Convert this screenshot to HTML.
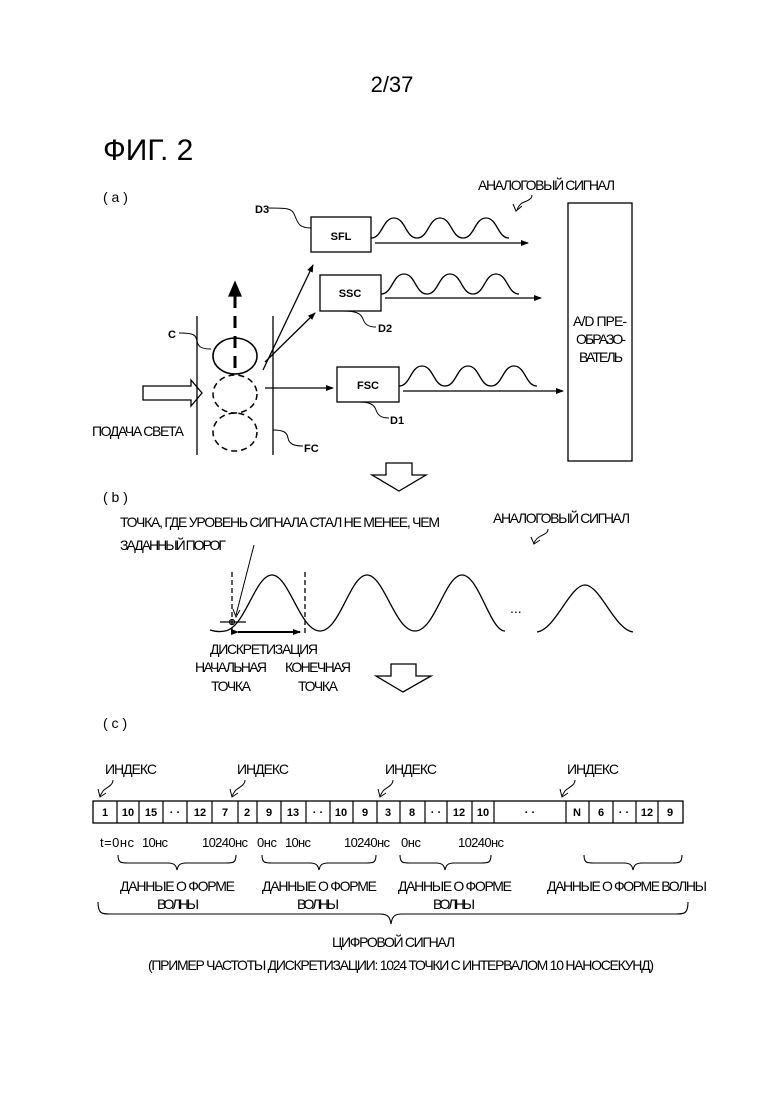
<!DOCTYPE html>
<html><head><meta charset="utf-8"><style>
html,body{margin:0;padding:0;background:#fff}
svg{display:block}
text{font-family:"Liberation Sans Narrow","Liberation Sans","DejaVu Sans",sans-serif;fill:#000}
</style></head><body>
<svg width="780" height="1103" viewBox="0 0 780 1103" xmlns="http://www.w3.org/2000/svg">
<defs><marker id="ah" markerWidth="8" markerHeight="8" refX="7" refY="4" orient="auto" markerUnits="userSpaceOnUse"><path d="M0,1 L8,4 L0,7 Z" fill="#000"/></marker></defs>
<g stroke="#000" fill="none" stroke-width="1.3">
<rect x="311" y="217" width="60" height="35"/>
<rect x="320" y="275" width="61" height="36"/>
<rect x="337" y="367" width="62" height="35"/>
<rect x="568" y="203" width="64" height="258"/>
<line x1="197" y1="316" x2="197" y2="455"/>
<line x1="273" y1="316" x2="273" y2="455"/>
<ellipse cx="235" cy="356" rx="22" ry="18" stroke-width="1.6"/>
<ellipse cx="235" cy="394" rx="22" ry="19" stroke-dasharray="6,4" stroke-width="1.5"/>
<ellipse cx="235" cy="432" rx="22" ry="19" stroke-dasharray="6,4" stroke-width="1.5"/>
<line x1="235" y1="368" x2="235" y2="292" stroke-width="3" stroke-dasharray="12,8"/>
<path d="M229,296 L235,282 L241,296 Z" fill="#000"/>
<path d="M143,386 L191,386 L191,380 L202,393 L191,406 L191,400 L143,400 Z"/>
<line x1="263" y1="370" x2="313" y2="265" marker-end="url(#ah)"/>
<line x1="265" y1="362" x2="315" y2="313" marker-end="url(#ah)"/>
<line x1="265" y1="388" x2="333" y2="388" marker-end="url(#ah)"/>
<path d="M371,238 c11.5,0 11.5,-20 23,-20 c11.5,0 11.5,20 23,20 c11.5,0 11.5,-20 23,-20 c11.5,0 11.5,20 23,20 c11.5,0 11.5,-20 23,-20 c11.5,0 11.5,20 23,20"/>
<line x1="375" y1="243" x2="528" y2="243" marker-end="url(#ah)"/>
<path d="M381,294 c11.5,0 11.5,-20 23,-20 c11.5,0 11.5,20 23,20 c11.5,0 11.5,-20 23,-20 c11.5,0 11.5,20 23,20 c11.5,0 11.5,-20 23,-20 c11.5,0 11.5,20 23,20"/>
<line x1="385" y1="298" x2="541" y2="298" marker-end="url(#ah)"/>
<path d="M399,386 c11.5,0 11.5,-20 23,-20 c11.5,0 11.5,20 23,20 c11.5,0 11.5,-20 23,-20 c11.5,0 11.5,20 23,20 c11.5,0 11.5,-20 23,-20 c11.5,0 11.5,20 23,20"/>
<line x1="403" y1="391" x2="563" y2="391" marker-end="url(#ah)"/>
<path d="M268,208 c20,0 24,0 27,8 c3,8 5,12 16,12" stroke-width="1"/>
<path d="M343,311 c12,0 18,2 20,8 c2,6 6,8 13,8" stroke-width="1"/>
<path d="M359,402 c10,0 15,2 17,8 c2,6 6,8 13,8" stroke-width="1"/>
<path d="M179,333 c15,0 17,2 18,8 c1,6 5,8 14,8" stroke-width="1"/>
<path d="M273,430 c10,0 14,2 15,8 c1,6 6,8 15,8" stroke-width="1"/>
<path d="M532,195 c0,5 -6,6 -10,8 c-3,2 -4,4 -5,7" stroke-width="1"/>
<path d="M513,204 L516,211 L522,206" stroke-width="1"/>
<path d="M386,463 L412,463 L412,475 L426,475 L399,491 L372,475 L386,475 Z"/>
<path d="M391,664 L416,664 L416,676 L431,676 L403,692 L376,676 L391,676 Z"/>
<path d="M210,630 C216,632 220,632 225,631 C245,628 255,575 272,575 C289,575 300,631 320,631 C340,631 350,575 367,575 C384,575 395,631 415,631 C435,631 445,575 462,575 C479,575 490,631 505,631"/>
<path d="M537,632 C555,630 570,585 585,585 C600,585 615,630 633,632"/>
<line x1="232" y1="572" x2="232" y2="636" stroke-dasharray="5,3"/>
<line x1="305" y1="572" x2="305" y2="636" stroke-dasharray="5,3"/>
<line x1="220" y1="622" x2="246" y2="622"/>
<circle cx="232" cy="622" r="2.5"/>
<line x1="238" y1="632" x2="300" y2="632" stroke-width="2" marker-end="url(#ah)" marker-start="url(#ah)"/>
<path d="M254,545 L236,615" stroke-width="1"/>
<path d="M233,609 L236,617 L240,610" stroke-width="1"/>
<path d="M548,529 c0,5 -6,6 -9,8 c-3,2 -4,4 -5,6" stroke-width="1"/>
<path d="M531,537 L534,544 L540,540" stroke-width="1"/>
<rect x="93" y="801" width="590" height="22"/>
<g stroke-width="1.2">
<line x1="117" y1="801" x2="117" y2="823"/><line x1="139" y1="801" x2="139" y2="823"/><line x1="163" y1="801" x2="163" y2="823"/><line x1="187" y1="801" x2="187" y2="823"/><line x1="212" y1="801" x2="212" y2="823"/><line x1="238" y1="801" x2="238" y2="823"/><line x1="257" y1="801" x2="257" y2="823"/><line x1="281" y1="801" x2="281" y2="823"/><line x1="306" y1="801" x2="306" y2="823"/><line x1="330" y1="801" x2="330" y2="823"/><line x1="353" y1="801" x2="353" y2="823"/><line x1="377" y1="801" x2="377" y2="823"/><line x1="400" y1="801" x2="400" y2="823"/><line x1="425" y1="801" x2="425" y2="823"/><line x1="447" y1="801" x2="447" y2="823"/><line x1="472" y1="801" x2="472" y2="823"/><line x1="494" y1="801" x2="494" y2="823"/><line x1="566" y1="801" x2="566" y2="823"/><line x1="589" y1="801" x2="589" y2="823"/><line x1="613" y1="801" x2="613" y2="823"/><line x1="636" y1="801" x2="636" y2="823"/><line x1="658" y1="801" x2="658" y2="823"/>
</g>
<g stroke-width="1">
<path d="M113,780 c0,6 -8,8 -10,11 l-3,5"/><path d="M98,789 L100,797 L106,793"/>
<path d="M245,780 c0,6 -8,8 -10,11 l-3,5"/><path d="M230,789 L232,797 L238,793"/>
<path d="M393,780 c0,6 -8,8 -10,11 l-3,5"/><path d="M378,789 L380,797 L386,793"/>
<path d="M575,780 c0,6 -8,8 -10,11 l-3,5"/><path d="M560,789 L562,797 L568,793"/>
</g>
<path d="M118,855 c0,8 3,8 10,8 l40,0 c6,0 8,2 9,7 c1,-5 3,-7 9,-7 l40,0 c7,0 10,0 10,-8" stroke-width="1.1"/>
<path d="M262,855 c0,8 3,8 10,8 l38,0 c6,0 8,2 9,7 c1,-5 3,-7 9,-7 l38,0 c7,0 10,0 10,-8" stroke-width="1.1"/>
<path d="M400,855 c0,8 3,8 10,8 l26,0 c6,0 8,2 9,7 c1,-5 3,-7 9,-7 l27,0 c7,0 10,0 10,-8" stroke-width="1.1"/>
<path d="M584,855 c0,8 3,8 10,8 l30,0 c6,0 8,2 9,7 c1,-5 3,-7 9,-7 l30,0 c7,0 10,0 10,-8" stroke-width="1.1"/>
<path d="M98,902 c0,12 4,12 12,12 l270,0 c8,0 10,3 11,10 c1,-7 3,-10 11,-10 l274,0 c8,0 12,0 12,-12" stroke-width="1.1"/>
</g>
<text x="392" y="92" font-size="22" text-anchor="middle" font-family="Liberation Sans">2/37</text>
<text x="103" y="160" font-size="30" font-family="Liberation Sans">ФИГ. 2</text>
<g font-size="14">
<text x="103" y="202">( a )</text>
<text x="478" y="190" textLength="137">АНАЛОГОВЫЙ СИГНАЛ</text>
<text x="255" y="213" font-size="11" font-weight="bold">D3</text>
<text x="341" y="240" font-size="11" font-weight="bold" text-anchor="middle">SFL</text>
<text x="350" y="297" font-size="11" font-weight="bold" text-anchor="middle">SSC</text>
<text x="368" y="389" font-size="11" font-weight="bold" text-anchor="middle">FSC</text>
<text x="378" y="332" font-size="11" font-weight="bold">D2</text>
<text x="390" y="424" font-size="11" font-weight="bold">D1</text>
<text x="168" y="338" font-size="11" font-weight="bold">C</text>
<text x="304" y="452" font-size="11" font-weight="bold">FC</text>
<text x="573" y="326" textLength="54">A/D ПРЕ-</text>
<text x="576" y="344" textLength="50">ОБРАЗО-</text>
<text x="579" y="362" textLength="44">ВАТЕЛЬ</text>
<text x="92" y="436" textLength="92">ПОДАЧА СВЕТА</text>
<text x="103" y="502">( b )</text>
<text x="120" y="527" textLength="320">ТОЧКА, ГДЕ УРОВЕНЬ СИГНАЛА СТАЛ НЕ МЕНЕЕ, ЧЕМ</text>
<text x="120" y="550" textLength="106">ЗАДАННЫЙ ПОРОГ</text>
<text x="493" y="523" textLength="137">АНАЛОГОВЫЙ СИГНАЛ</text>
<text x="510" y="613">...</text>
<text x="210" y="654" textLength="108">ДИСКРЕТИЗАЦИЯ</text>
<text x="195" y="672" textLength="72">НАЧАЛЬНАЯ</text>
<text x="285" y="672" textLength="66">КОНЕЧНАЯ</text>
<text x="211" y="691" textLength="40">ТОЧКА</text>
<text x="298" y="691" textLength="40">ТОЧКА</text>
<text x="103" y="728">( c )</text>
<text x="105" y="774" textLength="52">ИНДЕКС</text>
<text x="237" y="774" textLength="52">ИНДЕКС</text>
<text x="385" y="774" textLength="52">ИНДЕКС</text>
<text x="567" y="774" textLength="52">ИНДЕКС</text>
</g>
<g font-size="11" font-weight="bold" text-anchor="middle">
<text x="105" y="816">1</text><text x="128" y="816">10</text><text x="151" y="816">15</text><text x="175" y="816">· ·</text><text x="200" y="816">12</text><text x="225" y="816">7</text><text x="247" y="816">2</text><text x="269" y="816">9</text><text x="293" y="816">13</text><text x="318" y="816">· ·</text><text x="341" y="816">10</text><text x="365" y="816">9</text><text x="388" y="816">3</text><text x="412" y="816">8</text><text x="436" y="816">· ·</text><text x="459" y="816">12</text><text x="483" y="816">10</text><text x="530" y="816">· ·</text><text x="577" y="816">N</text><text x="601" y="816">6</text><text x="624" y="816">· ·</text><text x="647" y="816">12</text><text x="670" y="816">9</text>
</g>
<g font-size="13">
<text x="100" y="847" textLength="34">t=0нс</text><text x="142" y="847" textLength="26">10нс</text><text x="202" y="847" textLength="46">10240нс</text>
<text x="257" y="847" textLength="20">0нс</text><text x="285" y="847" textLength="26">10нс</text><text x="344" y="847" textLength="46">10240нс</text>
<text x="401" y="847" textLength="20">0нс</text><text x="458" y="847" textLength="46">10240нс</text>
</g>
<g font-size="14">
<text x="120" y="891" textLength="115">ДАННЫЕ О ФОРМЕ</text><text x="157" y="909" textLength="42">ВОЛНЫ</text>
<text x="262" y="891" textLength="115">ДАННЫЕ О ФОРМЕ</text><text x="297" y="909" textLength="42">ВОЛНЫ</text>
<text x="398" y="891" textLength="114">ДАННЫЕ О ФОРМЕ</text><text x="433" y="909" textLength="42">ВОЛНЫ</text>
<text x="547" y="891" textLength="160">ДАННЫЕ О ФОРМЕ ВОЛНЫ</text>
<text x="332" y="947" textLength="123">ЦИФРОВОЙ СИГНАЛ</text>
<text x="148" y="970" textLength="506">(ПРИМЕР ЧАСТОТЫ ДИСКРЕТИЗАЦИИ: 1024 ТОЧКИ С ИНТЕРВАЛОМ 10 НАНОСЕКУНД)</text>
</g>
</svg>
</body></html>
